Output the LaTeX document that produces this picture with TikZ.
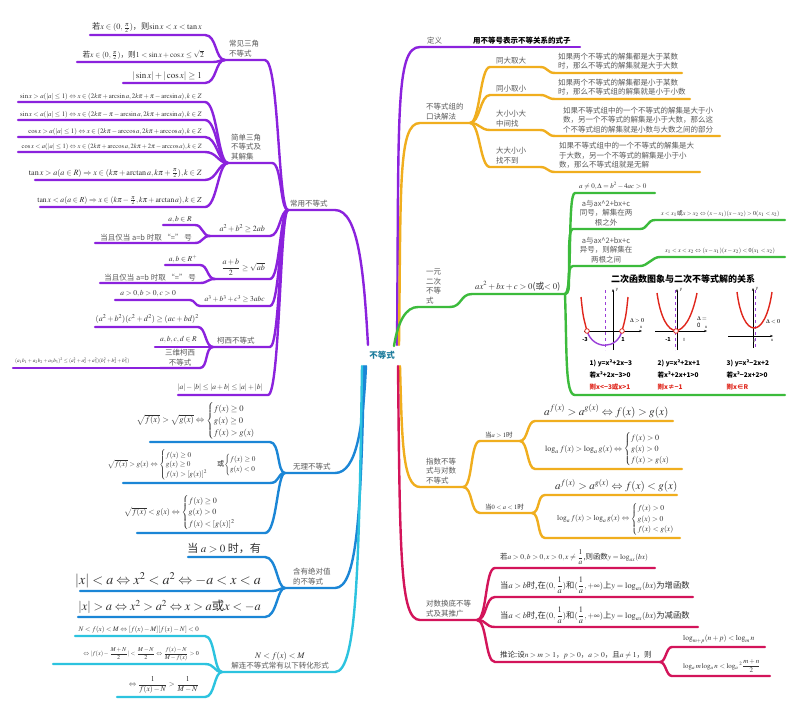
\documentclass[tikz,border=0pt]{standalone}
\usepackage{amsmath}
\usepackage{mathptmx}
\usepackage{fontspec}
\setmainfont{Noto Sans CJK SC}
\usetikzlibrary{arrows.meta}
\definecolor{cpur}{HTML}{8B22DD}
\definecolor{corange}{HTML}{F0AE1E}
\definecolor{cgreen}{HTML}{3CBB3C}
\definecolor{cblue}{HTML}{1B86D6}
\definecolor{ccyan}{HTML}{2CC3DF}
\definecolor{ccrim}{HTML}{D3145A}
\definecolor{cteal}{HTML}{1D7C9C}
\definecolor{labgray}{HTML}{5A5A5A}
\definecolor{fmgray}{HTML}{303030}
\definecolor{gred}{HTML}{E0261C}
\definecolor{gvio}{HTML}{9A3FD8}
\newcommand\fs[2]{\fontsize{#1}{#2}\selectfont}
\begin{document}
\begin{tikzpicture}[x=1pt,y=-1pt,
  br/.style={line width=2.4pt,line cap=round,line join=round},
  lab/.style={text=labgray,font=\fs{7.5}{9.5},inner sep=1pt,align=left},
  fm/.style={text=fmgray,inner sep=1pt},
  gtx/.style={inner sep=0.5pt,font=\fs{6.5}{7}\bfseries,anchor=west},
  gax/.style={line width=0.7pt,-{Stealth[length=3pt]}},
]
\fill[white] (0,0) rectangle (800,712);
\useasboundingbox (0,0) rectangle (800,712);

% ---------- center ----------
\node[font=\fs{8.5}{10}\bfseries,text=cteal,inner sep=1pt] (C) at (382,355) {不等式};
\coordinate (cL1) at (368,345);
\coordinate (cL2) at (366,366);
\coordinate (cL3) at (364,366);
\coordinate (cL4) at (362,366);
\coordinate (cR1) at (397,345);
\coordinate (cR2) at (399,345);
\coordinate (cR3) at (394,346);
\coordinate (cR4) at (400,366);
\coordinate (cR5) at (398,366);

% ---------- left purple: 常用不等式 ----------
\coordinate (cyL) at (288,210); \coordinate (cyR) at (335,210);
\node[lab,anchor=south west] (cy) at (289,208) {常用不等式};
\draw[br,cpur] (cyL) -- (cyR) .. controls +(24,0) and +(-4,-70) .. (cL1);

% sub: 常见三角不等式
\coordinate (sjL) at (225,60); \coordinate (sjR) at (265,60);
\node[lab,anchor=south west] (sj) at (228,58) {常见三角\\不等式};
\draw[br,cpur] (sjL) -- (sjR) .. controls +(14,0) and +(-10,0) .. (cyL);
\coordinate (t1L) at (90,35); \coordinate (t1R) at (205,35);
\node[fm,anchor=south east,font=\fs{8.2}{9}] (t1) at (203,34) {若$x\in(0,\frac{\pi}{2})$，则$\sin x<x<\tan x$};
\draw[br,cpur] (t1L) -- (t1R) .. controls +(12,0) and +(-10,0) .. (sjL);
\coordinate (t2L) at (77,62); \coordinate (t2R) at (212,62);
\node[fm,anchor=south east,font=\fs{7.6}{8.5}] (t2) at (205,61) {若$x\in(0,\frac{\pi}{2})$，则$1<\sin x+\cos x\le\sqrt{2}$};
\draw[br,cpur] (t2L) -- (t2R) .. controls +(8,0) and +(-6,0) .. (sjL);
\coordinate (t3L) at (123,83); \coordinate (t3R) at (205,83);
\node[fm,anchor=south east,font=\fs{9}{10}] (t3) at (203,82) {$|\sin x|+|\cos x|\ge 1$};
\draw[br,cpur] (t3L) -- (t3R) .. controls +(12,0) and +(-10,0) .. (sjL);

% sub: 简单三角不等式及其解集
\coordinate (sbL) at (228,163); \coordinate (sbR) at (272,163);
\node[lab,anchor=south west] (sb) at (230,161) {简单三角\\不等式及\\其解集};
\draw[br,cpur] (sbL) -- (sbR) .. controls +(10,0) and +(-8,0) .. (cyL);
\coordinate (s1L) at (18,102); \coordinate (s1R) at (205,102);
\node[fm,anchor=south east,font=\fs{6.8}{7.5}] (s1) at (203,101) {$\sin x>a(|a|\le 1)\Leftrightarrow x\in(2k\pi+\arcsin a,2k\pi+\pi-\arcsin a),k\in Z$};
\draw[br,cpur] (s1L) -- (s1R) .. controls +(12,0) and +(-10,0) .. (sbL);
\coordinate (s2L) at (18,120); \coordinate (s2R) at (205,120);
\node[fm,anchor=south east,font=\fs{6.8}{7.5}] (s2) at (203,119) {$\sin x<a(|a|\le 1)\Leftrightarrow x\in(2k\pi-\pi-\arcsin a,2k\pi+\arcsin a),k\in Z$};
\draw[br,cpur] (s2L) -- (s2R) .. controls +(12,0) and +(-10,0) .. (sbL);
\coordinate (s3L) at (18,137); \coordinate (s3R) at (205,137);
\node[fm,anchor=south east,font=\fs{6.8}{7.5}] (s3) at (203,136) {$\cos x>a(|a|\le 1)\Leftrightarrow x\in(2k\pi-\arccos a,2k\pi+\arccos a),k\in Z$};
\draw[br,cpur] (s3L) -- (s3R) .. controls +(12,0) and +(-10,0) .. (sbL);
\coordinate (s4L) at (18,152); \coordinate (s4R) at (205,152);
\node[fm,anchor=south east,font=\fs{6.5}{7}] (s4) at (203,151) {$\cos x<a(|a|\le 1)\Leftrightarrow x\in(2k\pi+\arccos a,2k\pi+2\pi-\arccos a),k\in Z$};
\draw[br,cpur] (s4L) -- (s4R) .. controls +(12,0) and +(-10,0) .. (sbL);
\coordinate (s5L) at (35,180); \coordinate (s5R) at (205,180);
\node[fm,anchor=south east,font=\fs{8.1}{9}] (s5) at (203,179) {$\tan x>a(a\in R)\Rightarrow x\in(k\pi+\arctan a,k\pi+\frac{\pi}{2}),k\in Z$};
\draw[br,cpur] (s5L) -- (s5R) .. controls +(12,0) and +(-10,0) .. (sbL);
\coordinate (s6L) at (40,207); \coordinate (s6R) at (205,207);
\node[fm,anchor=south east,font=\fs{7.7}{8.5}] (s6) at (203,206) {$\tan x<a(a\in R)\Rightarrow x\in(k\pi-\frac{\pi}{2},k\pi+\arctan a),k\in Z$};
\draw[br,cpur] (s6L) -- (s6R) .. controls +(12,0) and +(-10,0) .. (sbL);

% sub: a^2+b^2>=2ab
\coordinate (b1L) at (210,236); \coordinate (b1R) at (270,236);
\node[fm,anchor=south east,font=\fs{8}{9}] (b1) at (266,234) {$a^2+b^2\ge 2ab$};
\draw[br,cpur] (b1L) -- (b1R) .. controls +(10,0) and +(-8,0) .. (cyL);
\coordinate (u1L) at (163,225); \coordinate (u1R) at (195,225);
\node[fm,anchor=south,font=\fs{7.5}{8}] (u1) at (180,224) {$a,b\in R$};
\draw[br,cpur] (u1L) -- (u1R) .. controls +(8,0) and +(-8,0) .. (b1L);
\coordinate (u2L) at (95,243); \coordinate (u2R) at (195,243);
\node[lab,anchor=south east] (u2) at (193,242) {当且仅当 a=b 时取 “=” 号};
\draw[br,cpur] (u2L) -- (u2R) .. controls +(8,0) and +(-8,0) .. (b1L);

% sub: (a+b)/2 >= sqrt(ab)
\coordinate (b2L) at (215,279); \coordinate (b2R) at (270,279);
\node[fm,anchor=south east,font=\fs{8}{9}] (b2) at (266,277) {$\dfrac{a+b}{2}\ge\sqrt{ab}$};
\draw[br,cpur] (b2L) -- (b2R) .. controls +(10,0) and +(-8,0) .. (cyL);
\coordinate (u3L) at (165,265); \coordinate (u3R) at (200,265);
\node[fm,anchor=south,font=\fs{7.5}{8}] (u3) at (183,264) {$a,b\in R^{+}$};
\draw[br,cpur] (u3L) -- (u3R) .. controls +(8,0) and +(-8,0) .. (b2L);
\coordinate (u4L) at (100,283); \coordinate (u4R) at (200,283);
\node[lab,anchor=south east] (u4) at (197,282) {当且仅当 a=b 时取 “=” 号};
\draw[br,cpur] (u4L) -- (u4R) .. controls +(8,0) and +(-8,0) .. (b2L);

% sub: a^3+b^3+c^3>=3abc
\coordinate (b3L) at (200,306); \coordinate (b3R) at (270,306);
\node[fm,anchor=south east,font=\fs{7.5}{8.5}] (b3) at (266,304) {$a^3+b^3+c^3\ge 3abc$};
\draw[br,cpur] (b3L) -- (b3R) .. controls +(10,0) and +(-8,0) .. (cyL);
\coordinate (u5L) at (115,300); \coordinate (u5R) at (190,300);
\node[fm,anchor=south east,font=\fs{7.5}{8}] (u5) at (177,298) {$a>0,b>0,c>0$};
\draw[br,cpur] (u5L) -- (u5R) .. controls +(5,0) and +(-5,0) .. (b3L);

% sub: 柯西不等式
\coordinate (kxL) at (213,347); \coordinate (kxR) at (270,347);
\node[lab,anchor=south west] (kx) at (216,345) {柯西不等式};
\draw[br,cpur] (kxL) -- (kxR) .. controls +(10,0) and +(-8,0) .. (cyL);
\coordinate (u6L) at (95,327); \coordinate (u6R) at (198,327);
\node[fm,anchor=south east,font=\fs{8}{9}] (u6) at (200,325) {$(a^2+b^2)(c^2+d^2)\ge(ac+bd)^2$};
\draw[br,cpur] (u6L) -- (u6R) .. controls +(8,0) and +(-8,0) .. (kxL);
\coordinate (u7L) at (155,347); \coordinate (u7R) at (205,347);
\node[fm,anchor=south east,font=\fs{7.5}{8}] (u7) at (198,344) {$a,b,c,d\in R$};
\draw[br,cpur] (u7L) -- (u7R) -- (kxL);
\coordinate (sdL) at (160,368); \coordinate (sdR) at (200,368);
\node[lab,anchor=south,align=center] (sd) at (180,367) {三维柯西\\不等式};
\draw[br,cpur] (sdL) -- (sdR) .. controls +(8,0) and +(-8,0) .. (kxL);
\coordinate (u8L) at (13,368);
\node[fm,anchor=south west,font=\fs{5.2}{6}] (u8) at (14,365) {$(a_1b_1+a_2b_2+a_3b_3)^2\le(a_1^2+a_2^2+a_3^2)(b_1^2+b_2^2+b_3^2)$};
\draw[br,cpur] (u8L) -- (sdL);

% sub: triangle inequality
\coordinate (abL) at (178,395); \coordinate (abR) at (268,395);
\node[fm,anchor=south east,font=\fs{7.5}{8.5}] (ab) at (264,393) {$|a|-|b|\le|a+b|\le|a|+|b|$};
\draw[br,cpur] (abL) -- (abR) .. controls +(12,0) and +(-8,0) .. (cyL);

% ---------- left blue: 无理不等式 ----------
\coordinate (wlL) at (285,473); \coordinate (wlR) at (335,473);
\node[lab,anchor=south west] (wl) at (292,471) {无理不等式};
\draw[br,cblue] (wlL) -- (wlR) .. controls +(22,0) and +(-3,60) .. (cL2);
\coordinate (r1L) at (150,442); \coordinate (r1R) at (270,442);
\node[fm,anchor=south east,font=\fs{8.5}{10}] (r1) at (265,440) {$\sqrt{f(x)}>\sqrt{g(x)}\Leftrightarrow\begin{cases}f(x)\ge 0\\ g(x)\ge 0\\ f(x)>g(x)\end{cases}$};
\draw[br,cblue] (r1L) -- (r1R) .. controls +(10,0) and +(-8,0) .. (wlL);
\coordinate (r2L) at (123,483); \coordinate (r2R) at (270,483);
\node[fm,anchor=south east,font=\fs{7.2}{8}] (r2) at (265,481) {$\sqrt{f(x)}>g(x)\Leftrightarrow\begin{cases}f(x)\ge 0\\ g(x)\ge 0\\ f(x)>[g(x)]^2\end{cases}$\ 或$\begin{cases}f(x)\ge 0\\ g(x)<0\end{cases}$};
\draw[br,cblue] (r2L) -- (r2R) .. controls +(10,0) and +(-8,0) .. (wlL);
\coordinate (r3L) at (137,533); \coordinate (r3R) at (265,533);
\node[fm,anchor=south east,font=\fs{8}{9.5}] (r3) at (245,531) {$\sqrt{f(x)}<g(x)\Leftrightarrow\begin{cases}f(x)\ge 0\\ g(x)>0\\ f(x)<[g(x)]^2\end{cases}$};
\draw[br,cblue] (r3L) -- (r3R) .. controls +(12,0) and +(-8,0) .. (wlL);

% ---------- left blue: 含有绝对值的不等式 ----------
\coordinate (jdL) at (285,588); \coordinate (jdR) at (335,588);
\node[lab,anchor=south west] (jd) at (292,586) {含有绝对值\\的不等式};
\draw[br,cblue] (jdL) -- (jdR) .. controls +(22,0) and +(-3,150) .. (cL3);
\coordinate (a1L) at (188,557); \coordinate (a1R) at (265,557);
\node[fm,anchor=south east,font=\fs{11}{12}] (a1) at (262,555) {当 $a>0$ 时，有};
\draw[br,cblue] (a1L) -- (a1R) .. controls +(12,0) and +(-8,0) .. (jdL);
\coordinate (a2L) at (80,591); \coordinate (a2R) at (272,591);
\node[fm,anchor=south east,font=\fs{14}{15}] (a2) at (262,589) {$|x|<a\Leftrightarrow x^2<a^2\Leftrightarrow -a<x<a$};
\draw[br,cblue] (a2L) -- (a2R) .. controls +(6,0) and +(-5,0) .. (jdL);
\coordinate (a3L) at (78,617); \coordinate (a3R) at (265,617);
\node[fm,anchor=south east,font=\fs{12.4}{13.5}] (a3) at (262,615) {$|x|>a\Leftrightarrow x^2>a^2\Leftrightarrow x>a$或$x<-a$};
\draw[br,cblue] (a3L) -- (a3R) .. controls +(12,0) and +(-8,0) .. (jdL);

% ---------- left cyan ----------
\coordinate (lxL) at (222,672); \coordinate (lxR) at (335,672);
\node[lab,anchor=south,align=center] (lx) at (280,670) {{\fs{8.5}{10}\color{fmgray}$N<f(x)<M$}\\解连不等式常有以下转化形式};
\draw[br,ccyan] (lxL) -- (lxR) .. controls +(22,0) and +(-3,200) .. (cL4);
\coordinate (n1L) at (75,636); \coordinate (n1R) at (205,636);
\node[fm,anchor=south east,font=\fs{6.9}{7.5}] (n1) at (200,634) {$N<f(x)<M\Leftrightarrow[f(x)-M][f(x)-N]<0$};
\draw[br,ccyan] (n1L) -- (n1R) .. controls +(10,0) and +(-8,0) .. (lxL);
\coordinate (n2L) at (53,664); \coordinate (n2R) at (205,664);
\node[fm,anchor=south east,font=\fs{6}{7}] (n2) at (200,662) {$\Leftrightarrow|f(x)-\dfrac{M+N}{2}|<\dfrac{M-N}{2}\Leftrightarrow\dfrac{f(x)-N}{M-f(x)}>0$};
\draw[br,ccyan] (n2L) -- (n2R) .. controls +(10,0) and +(-8,0) .. (lxL);
\coordinate (n3L) at (117,697); \coordinate (n3R) at (205,697);
\node[fm,anchor=south east,font=\fs{7.5}{8.5}] (n3) at (200,695) {$\Leftrightarrow\dfrac{1}{f(x)-N}>\dfrac{1}{M-N}$};
\draw[br,ccyan] (n3L) -- (n3R) .. controls +(10,0) and +(-8,0) .. (lxL);

% ---------- right purple: 定义 ----------
\coordinate (dyL) at (420,47); \coordinate (dyR) at (470,47);
\node[lab,anchor=south west] (dy) at (426,45) {定义};
\draw[br,cpur] (cR1) .. controls +(2,-230) and +(-25,0) .. (dyL) -- (dyR);
\coordinate (dzR) at (580,47);
\node[lab,anchor=south west,text=black,font=\fs{7.5}{9}\bfseries] (dz) at (472,45) {用不等号表示不等关系的式子};
\draw[br,cpur] (dyR) -- (dzR);

% ---------- right orange: 口诀 ----------
\coordinate (kjL) at (420,123); \coordinate (kjR) at (470,123);
\node[lab,anchor=south west] (kj) at (425,121) {不等式组的\\口诀解法};
\draw[br,corange] (cR2) .. controls +(2,-160) and +(-22,0) .. (kjL) -- (kjR);
% k1
\coordinate (k1L) at (490,67); \coordinate (k1R) at (540,67);
\node[lab,anchor=south west] (k1) at (495,65) {同大取大};
\coordinate (k1cL) at (555,73); \coordinate (k1cR) at (682,73);
\node[lab,anchor=south west] (k1c) at (557,71) {如果两个不等式的解集都是大于某数\\时，那么不等式的解集就是大于大数};
\draw[br,corange] (kjR) .. controls +(10,0) and +(-10,0) .. (k1L) -- (k1R) .. controls +(8,0) and +(-8,0) .. (k1cL) -- (k1cR);
% k2
\coordinate (k2L) at (490,95); \coordinate (k2R) at (540,95);
\node[lab,anchor=south west] (k2) at (495,93) {同小取小};
\coordinate (k2cL) at (555,99); \coordinate (k2cR) at (690,99);
\node[lab,anchor=south west] (k2c) at (557,97) {如果两个不等式的解集都是小于某数\\时，那么不等式组的解集就是小于小数};
\draw[br,corange] (kjR) .. controls +(10,0) and +(-10,0) .. (k2L) -- (k2R) .. controls +(8,0) and +(-8,0) .. (k2cL) -- (k2cR);
% k3
\coordinate (k3L) at (490,130); \coordinate (k3R) at (540,130);
\node[lab,anchor=south west] (k3) at (495,128) {大小小大\\中间找};
\coordinate (k3cL) at (555,136); \coordinate (k3cR) at (720,136);
\node[lab,anchor=south west] (k3c) at (562,134) {如果不等式组中的一个不等式的解集是大于小\\数，另一个不等式的解集是小于大数，那么这\\个不等式组的解集就是小数与大数之间的部分};
\draw[br,corange] (kjR) .. controls +(10,0) and +(-10,0) .. (k3L) -- (k3R) .. controls +(8,0) and +(-8,0) .. (k3cL) -- (k3cR);
% k4
\coordinate (k4L) at (490,167); \coordinate (k4R) at (540,167);
\node[lab,anchor=south west] (k4) at (495,165) {大大小小\\找不到};
\coordinate (k4cL) at (555,172); \coordinate (k4cR) at (700,172);
\node[lab,anchor=south west] (k4c) at (558,170) {如果不等式组中的一个不等式的解集是大\\于大数，另一个不等式的解集是小于小\\数，那么不等式组就是无解};
\draw[br,corange] (kjR) .. controls +(10,0) and +(-10,0) .. (k4L) -- (k4R) .. controls +(8,0) and +(-8,0) .. (k4cL) -- (k4cR);

% ---------- right green: 一元二次不等式 ----------
\coordinate (ycL) at (418,307); \coordinate (ycR) at (450,307);
\node[lab,anchor=south west] (yc) at (425,305) {一元\\二次\\不等\\式};
\draw[br,cgreen] (cR3) .. controls +(4,-25) and +(-12,0) .. (ycL) -- (ycR);
\coordinate (qxL) at (472,294); \coordinate (qxR) at (565,294);
\node[fm,anchor=south west,font=\fs{8.7}{9.5}] (qx) at (474,292) {$ax^2+bx+c>0$(或$<0$)};
\draw[br,cgreen] (ycR) .. controls +(12,0) and +(-12,0) .. (qxL) -- (qxR);
\coordinate (q1L) at (575,193); \coordinate (q1R) at (655,193);
\node[fm,anchor=south west,font=\fs{7}{8}] (q1) at (578,191) {$a\ne 0,\Delta=b^2-4ac>0$};
\draw[br,cgreen] (qxR) .. controls +(8,0) and +(-8,0) .. (q1L) -- (q1R);
\coordinate (q2L) at (573,229); \coordinate (q2R) at (640,229);
\node[lab,anchor=south,align=center] (q2) at (606,227) {a与ax\textasciicircum 2+bx+c\\同号，解集在两\\根之外};
\coordinate (q2cL) at (655,220); \coordinate (q2cR) at (785,220);
\node[fm,anchor=south west,font=\fs{6}{7}] (q2c) at (660,218) {$x<x_1$或$x>x_2\Leftrightarrow(x-x_1)(x-x_2)>0(x_1<x_2)$};
\draw[br,cgreen] (qxR) .. controls +(8,0) and +(-8,0) .. (q2L) -- (q2R) .. controls +(8,0) and +(-8,0) .. (q2cL) -- (q2cR);
\coordinate (q3L) at (573,266); \coordinate (q3R) at (640,266);
\node[lab,anchor=south,align=center] (q3) at (606,264) {a与ax\textasciicircum 2+bx+c\\异号，则解集在\\两根之间};
\coordinate (q3cL) at (660,257); \coordinate (q3cR) at (785,257);
\node[fm,anchor=south west,font=\fs{6}{7}] (q3c) at (664,255) {$x_1<x<x_2\Leftrightarrow(x-x_1)(x-x_2)<0(x_1<x_2)$};
\draw[br,cgreen] (qxR) .. controls +(8,0) and +(-8,0) .. (q3L) -- (q3R) .. controls +(8,0) and +(-8,0) .. (q3cL) -- (q3cR);
\coordinate (q4L) at (575,395); \coordinate (q4R) at (785,395);
\draw[br,cgreen] (qxR) .. controls +(2,60) and +(-10,0) .. (q4L) -- (q4R);

% picture of graphs
\node[font=\fs{9}{10}\bfseries,inner sep=0pt] (gt) at (683,279) {二次函数图象与二次不等式解的关系};
% graph 1
\draw[gax] (584,331) -- (642,331);
\draw[gax] (613,350) -- (613,289);
\draw[gvio,dashed,line width=0.7pt] (605,290) -- (605,350);
\draw[gred,line width=1.4pt] (581,297) .. controls (583,316) .. (587,331);
\draw[gvio,line width=1.4pt] (587,331) .. controls (593,350) and (617,350) .. (622,331);
\draw[gred,line width=1.4pt] (622,331) .. controls (626,316) .. (628,297);
\draw[gred,fill=white,line width=0.8pt] (587,331) circle (2.3);
\draw[gred,fill=white,line width=0.8pt] (622,331) circle (2.3);
\node[font=\fs{4}{4},inner sep=0pt] (g1y) at (617,290) {y};
\node[font=\fs{4}{4},inner sep=0pt] (g1x) at (641,327) {x};
\node[font=\fs{5.5}{6}\bfseries,inner sep=0pt] (g1a) at (585,339) {-3};
\node[font=\fs{5.5}{6}\bfseries,inner sep=0pt] (g1b) at (623,339) {1};
\node[font=\fs{6}{7},inner sep=0pt] (g1d) at (637,321) {$\Delta>0$};
% graph 2
\draw[gax] (655,331) -- (707,331);
\draw[gax] (677,350) -- (677,289);
\draw[gvio,dashed,line width=0.7pt] (675,290) -- (675,350);
\draw[gred,line width=1.4pt] (657,293) .. controls (664,343) and (687,343) .. (697,293);
\draw[gred,fill=white,line width=0.8pt] (676,331) circle (2.3);
\node[font=\fs{4}{4},inner sep=0pt] (g2y) at (681,290) {y};
\node[font=\fs{4}{4},inner sep=0pt] (g2x) at (706,327) {x};
\node[font=\fs{5.5}{6}\bfseries,inner sep=0pt] (g2a) at (668,339) {-1};
\node[font=\fs{4.5}{5},text=labgray,inner sep=0pt] (g2b) at (684,340) {0};
\node[font=\fs{6}{7.5},inner sep=0pt,align=left] (g2d) at (702,322) {$\Delta=$\\0};
% graph 3
\draw[gax] (728,336) -- (773,336);
\draw[gax] (753,348) -- (753,288);
\draw[gvio,dashed,line width=0.7pt] (755,290) -- (755,348);
\draw[gred,line width=1.4pt] (737,292) .. controls (743,340) and (765,340) .. (772,292);
\node[font=\fs{4}{4},inner sep=0pt] (g3y) at (757,289) {y};
\node[font=\fs{4}{4},inner sep=0pt] (g3x) at (772,340) {x};
\node[font=\fs{4.5}{5},text=labgray,inner sep=0pt] (g3b) at (754,341) {0};
\node[font=\fs{6}{7},inner sep=0pt] (g3d) at (773,322) {$\Delta<0$};
% captions
\node[gtx] (c11) at (589,363) {1) y=x²+2x−3};
\node[gtx] (c12) at (589,375) {若x²+2x−3>0};
\node[gtx,text=gred] (c13) at (589,387) {则x<−3或x>1};
\node[gtx] (c21) at (657,363) {2) y=x²+2x+1};
\node[gtx] (c22) at (657,375) {若x²+2x+1>0};
\node[gtx,text=gred] (c23) at (657,387) {则x≠−1};
\node[gtx] (c31) at (726,363) {3) y=x²−2x+2};
\node[gtx] (c32) at (726,375) {若x²−2x+2>0};
\node[gtx,text=gred] (c33) at (726,387) {则x∈R};

% ---------- right orange: 指数不等式与对数不等式 ----------
\coordinate (zsL) at (420,487); \coordinate (zsR) at (463,487);
\node[lab,anchor=south west] (zs) at (425,485) {指数不等\\式与对数\\不等式};
\draw[br,corange] (cR4) .. controls +(2,70) and +(-18,0) .. (zsL) -- (zsR);
\coordinate (g1L) at (480,441); \coordinate (g1R) at (520,441);
\node[fm,anchor=south west,font=\fs{6.5}{7.5}] (gA) at (484,439) {当$a>1$时};
\draw[br,corange] (zsR) .. controls +(10,0) and +(-10,0) .. (g1L) -- (g1R);
\coordinate (e1L) at (535,421); \coordinate (e1R) at (673,421);
\node[fm,anchor=south west,font=\fs{11.2}{12}] (e1) at (543,419) {$a^{f(x)}>a^{g(x)}\Leftrightarrow f(x)>g(x)$};
\draw[br,corange] (g1R) .. controls +(8,0) and +(-8,0) .. (e1L) -- (e1R);
\coordinate (e2L) at (535,469); \coordinate (e2R) at (682,469);
\node[fm,anchor=south west,font=\fs{8}{9.2}] (e2) at (544,467) {$\log_a f(x)>\log_a g(x)\Leftrightarrow\begin{cases}f(x)>0\\ g(x)>0\\ f(x)>g(x)\end{cases}$};
\draw[br,corange] (g1R) .. controls +(8,0) and +(-8,0) .. (e2L) -- (e2R);
\coordinate (g2L) at (480,513); \coordinate (g2R) at (532,513);
\node[fm,anchor=south west,font=\fs{6.5}{7.5}] (gB) at (484,511) {当$0<a<1$时};
\draw[br,corange] (zsR) .. controls +(10,0) and +(-10,0) .. (g2L) -- (g2R);
\coordinate (e3L) at (545,495); \coordinate (e3R) at (677,495);
\node[fm,anchor=south west,font=\fs{11}{12}] (e3) at (554,493) {$a^{f(x)}>a^{g(x)}\Leftrightarrow f(x)<g(x)$};
\draw[br,corange] (g2R) .. controls +(8,0) and +(-8,0) .. (e3L) -- (e3R);
\coordinate (e4L) at (545,538); \coordinate (e4R) at (680,538);
\node[fm,anchor=south west,font=\fs{7.5}{8.6}] (e4) at (556,536) {$\log_a f(x)>\log_a g(x)\Leftrightarrow\begin{cases}f(x)>0\\ g(x)>0\\ f(x)<g(x)\end{cases}$};
\draw[br,corange] (g2R) .. controls +(8,0) and +(-8,0) .. (e4L) -- (e4R);

% ---------- right crimson: 对数换底不等式及其推广 ----------
\coordinate (hdL) at (420,620); \coordinate (hdR) at (477,620);
\node[lab,anchor=south west] (hd) at (425,618) {对数换底不等\\式及其推广};
\draw[br,ccrim] (cR5) .. controls +(2,190) and +(-20,0) .. (hdL) -- (hdR);
\coordinate (l1L) at (495,568); \coordinate (l1R) at (655,568);
\node[fm,anchor=south west,font=\fs{7.4}{8.2}] (l1) at (499,566) {若$a>0,b>0,x>0,x\ne\dfrac{1}{a}$,则函数$y=\log_{ax}(bx)$};
\draw[br,ccrim] (hdR) .. controls +(10,0) and +(-10,0) .. (l1L) -- (l1R);
\coordinate (l2L) at (495,597); \coordinate (l2R) at (693,597);
\node[fm,anchor=south west,font=\fs{8.3}{9}] (l2) at (499,595) {当$a>b$时,在$(0,\dfrac{1}{a})$和$(\dfrac{1}{a},+\infty)$上$y=\log_{ax}(bx)$为增函数};
\draw[br,ccrim] (hdR) .. controls +(10,0) and +(-10,0) .. (l2L) -- (l2R);
\coordinate (l3L) at (495,627); \coordinate (l3R) at (698,627);
\node[fm,anchor=south west,font=\fs{8.3}{9}] (l3) at (499,625) {当$a<b$时,在$(0,\dfrac{1}{a})$和$(\dfrac{1}{a},+\infty)$上$y=\log_{ax}(bx)$为减函数};
\draw[br,ccrim] (hdR) .. controls +(10,0) and +(-10,0) .. (l3L) -- (l3R);
\coordinate (l4L) at (495,662); \coordinate (l4R) at (660,662);
\node[fm,anchor=south west,font=\fs{7.5}{8.5}] (l4) at (499,660) {推论:设$n>m>1$，$p>0$，$a>0$，且$a\ne 1$，则};
\draw[br,ccrim] (hdR) .. controls +(10,0) and +(-10,0) .. (l4L) -- (l4R);
\coordinate (l5L) at (672,647); \coordinate (l5R) at (765,647);
\node[fm,anchor=south west,font=\fs{7.5}{8.5}] (l5) at (682,645) {$\log_{m+p}(n+p)<\log_m n$};
\draw[br,ccrim] (l4R) .. controls +(6,0) and +(-6,0) .. (l5L) -- (l5R);
\coordinate (l6L) at (672,676); \coordinate (l6R) at (770,676);
\node[fm,anchor=south west,font=\fs{7}{8}] (l6) at (682,674) {$\log_a m\log_a n<\log_a{}^2\dfrac{m+n}{2}$};
\draw[br,ccrim] (l4R) .. controls +(6,0) and +(-6,0) .. (l6L) -- (l6R);
\end{tikzpicture}
\end{document}
